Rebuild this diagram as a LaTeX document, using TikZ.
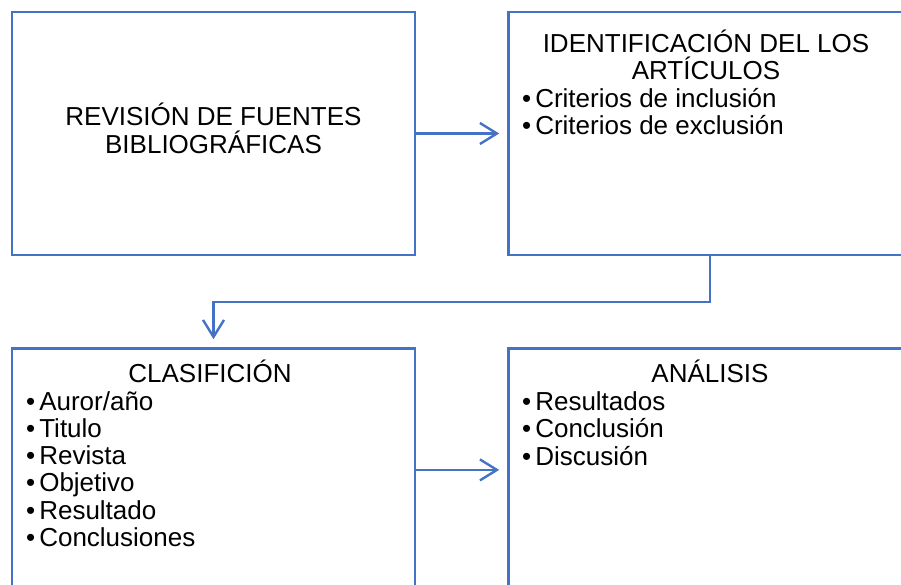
\documentclass[tikz,border=0pt]{standalone}
\usepackage{fontspec}
\setmainfont{Liberation Sans}
\usetikzlibrary{arrows.meta,positioning}
\definecolor{boxblue}{RGB}{68,114,196}
\tikzstyle{box} = [rectangle,draw=boxblue,line width=2.4pt,minimum width=403pt,minimum height=243pt,inner sep=0pt]
\tikzstyle{txt} = [inner sep=0pt,font=\fontsize{26pt}{27.3pt}\selectfont]
\tikzstyle{flow} = [draw=boxblue,line width=2.4pt,-{Straight Barb[length=17pt,width=21pt]}]
\newcommand{\bul}{\textbullet\hspace{4pt}}

\begin{document}
\begin{tikzpicture}[x=1pt,y=-1pt]
	\clip (0,0) rectangle (901,585);

	\node[box](rev) at (213.5,133.5) {};
	\node[box,right=91pt of rev](ident) {};
	\node[box,below=91pt of rev](clas) {};
	\node[box,right=91pt of clas](anal) {};

	\node[txt,align=center,anchor=north] (revt) at (213.5,103) {REVISIÓN DE FUENTES\\BIBLIOGRÁFICAS};
	\node[txt,align=center,anchor=north] (identt) at (706,29.3) {IDENTIFICACIÓN DEL LOS\\ARTÍCULOS};
	\node[txt,align=left,anchor=north west] (identl) at (522,87.8) {\bul Criterios de inclusión\\\bul Criterios de exclusión};
	\node[txt,align=center,anchor=north] (clast) at (210,359.3) {CLASIFICIÓN};
	\node[txt,align=left,anchor=north west] (clasl) at (26,391) {\bul Auror/año\\\bul Titulo\\\bul Revista\\\bul Objetivo\\\bul Resultado\\\bul Conclusiones};
	\node[txt,align=center,anchor=north] (analt) at (710,359.3) {ANÁLISIS};
	\node[txt,align=left,anchor=north west] (anall) at (522,391.4) {\bul Resultados\\\bul Conclusión\\\bul Discusión};

	\draw[flow,shorten >=8pt] (rev) -- (ident);
	\draw[flow,shorten >=8pt] (clas) -- (anal);
	\draw[flow,shorten >=8pt] (ident.south) -- ++(0,46) -| (clas.north);

\end{tikzpicture}
\end{document}
